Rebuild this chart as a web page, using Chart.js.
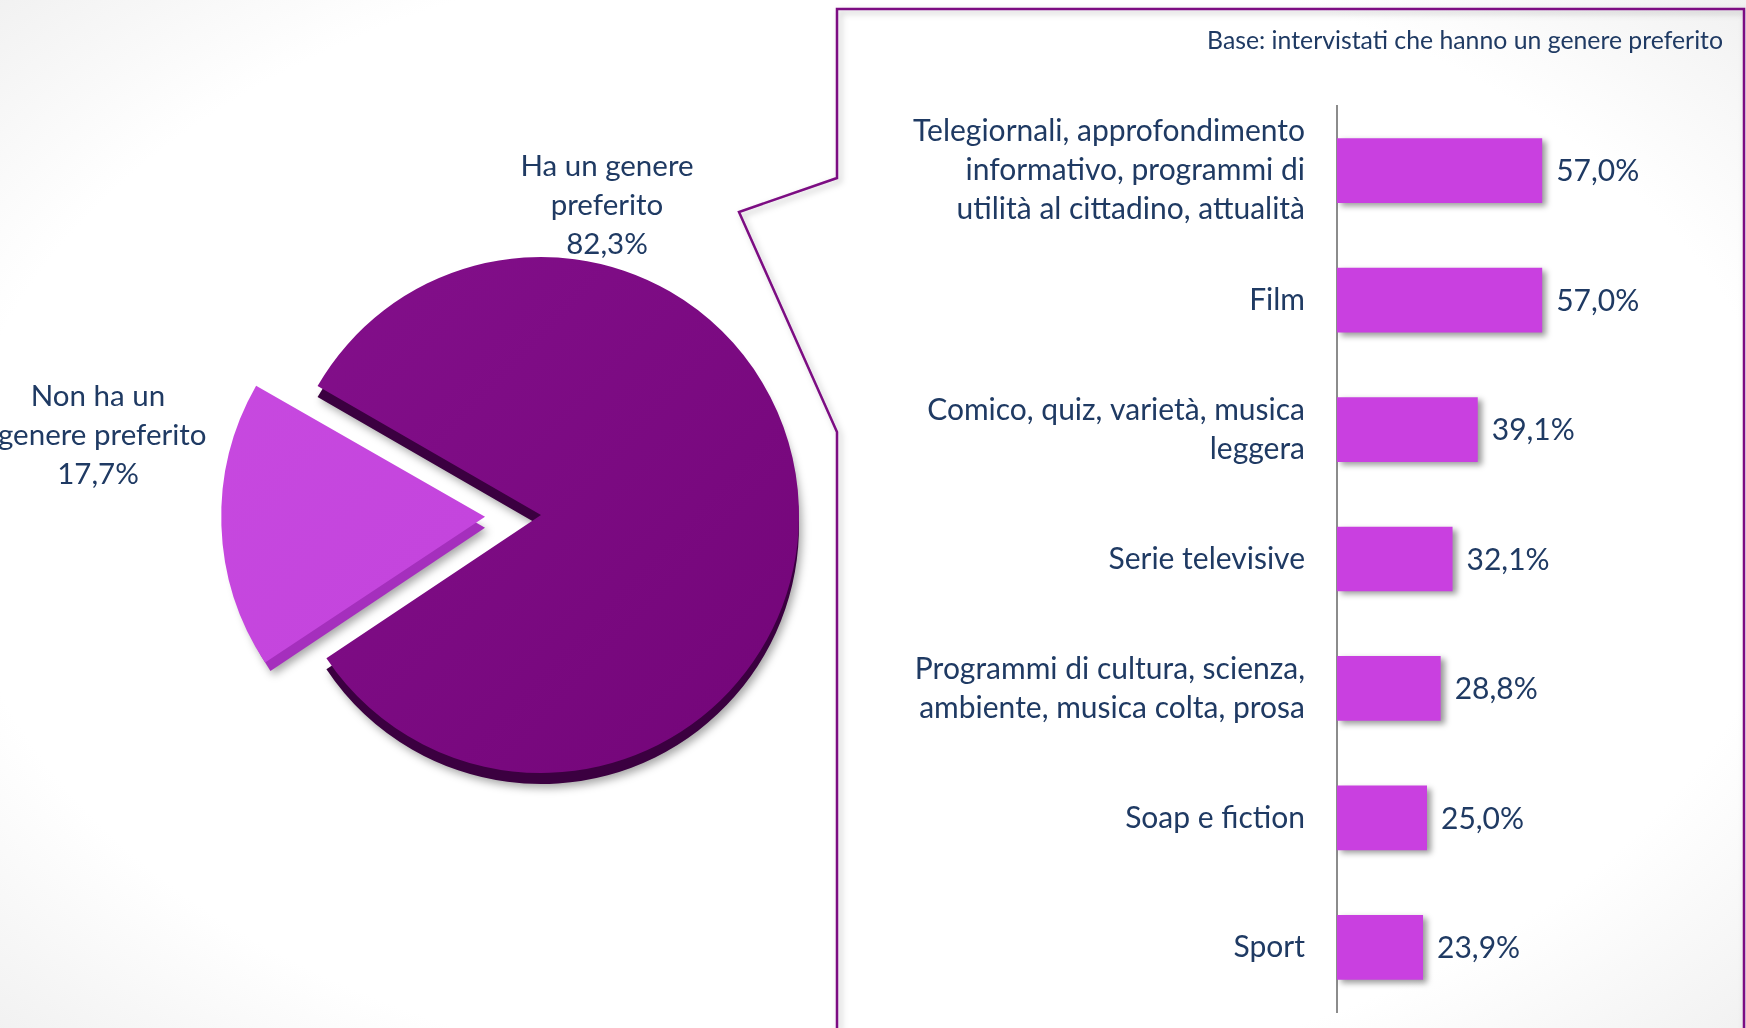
<!DOCTYPE html>
<html>
<head>
<meta charset="utf-8">
<script src="https://cdn.jsdelivr.net/npm/chart.js@4.4.1/dist/chart.umd.min.js"></script>
<style>
html,body{margin:0;padding:0}
body{width:1746px;height:1028px;overflow:hidden;position:relative;
  background:radial-gradient(ellipse 75% 80% at 50% 50%, #ffffff 70%, #ececec 100%);
  font-family:Lato,"Open Sans",sans-serif;color:#1f3a63}
canvas{position:absolute}
#pie{left:1px;top:3px}
#bars{left:840px;top:-1px}
#callout{position:absolute;left:0;top:0}
.lbl{position:absolute;text-align:center;font-size:29.5px;line-height:39px;white-space:nowrap}
#base{position:absolute;right:23px;top:25px;font-size:24.8px;white-space:nowrap}
</style>
</head>
<body>
<canvas id="pie" width="1080" height="1024"></canvas>
<svg id="callout" width="1746" height="1028">
  <defs>
    <filter id="sh" x="-5%" y="-5%" width="110%" height="110%">
      <feDropShadow dx="3" dy="3" stdDeviation="3" flood-color="#000" flood-opacity="0.25"/>
    </filter>
  </defs>
  <polyline points="837,1030 837,432 739,212 837,178 837,9 1744,9 1744,1030"
    fill="none" stroke="#7b0a82" stroke-width="2.5" filter="url(#sh)"/>
</svg>
<canvas id="bars" width="900" height="1028"></canvas>

<div class="lbl" style="left:507px;top:145px;width:200px">Ha un genere<br>preferito<br>82,3%</div>
<div class="lbl" style="left:-2px;top:375px;width:200px">Non ha un<br>genere preferito<br>17,7%</div>
<div id="base">Base: intervistati che hanno un genere preferito</div>

<script>
// pie: who has a favourite genre
const pieLabels = ["Ha un genere preferito", "Non ha un genere preferito"]
const pieValues = [82.3, 17.7]

// bars: favourite genres
const genres = [
  ["Telegiornali, approfondimento", "informativo, programmi di", "utilità al cittadino, attualità"],
  "Film",
  ["Comico, quiz, varietà, musica", "leggera"],
  "Serie televisive",
  ["Programmi di cultura, scienza,", "ambiente, musica colta, prosa"],
  "Soap e fiction",
  "Sport"
]
const genreValues = [57.0, 57.0, 39.1, 32.1, 28.8, 25.0, 23.9]

const textColor = "#1f3a63"
const fontFamily = "Lato, 'Open Sans', sans-serif"

// fake 3d depth under the pie slices
const pieDepth = {
  id: "pieDepth",
  beforeDatasetsDraw(chart){
    const ctx = chart.ctx
    const depthColors = ["#3b0040", "#a52fbd"]
    chart.getDatasetMeta(0).data.forEach((arc, i)=>{
      ctx.save()
      ctx.shadowColor = "rgba(0,0,0,0.35)"
      ctx.shadowBlur = 8
      ctx.shadowOffsetX = 3
      ctx.shadowOffsetY = 4
      // chart.js moves an offset arc by offset/4
      const off = (arc.options.offset || 0) / 4
      const mid = (arc.startAngle + arc.endAngle) / 2
      const cx = arc.x + Math.cos(mid) * off
      const cy = arc.y + Math.sin(mid) * off + 11
      ctx.beginPath()
      ctx.moveTo(cx, cy)
      ctx.arc(cx, cy, arc.outerRadius, arc.startAngle, arc.endAngle)
      ctx.closePath()
      ctx.fillStyle = depthColors[i]
      ctx.fill()
      ctx.restore()
    })
  }
}

// light-to-dark sheen on the slices
function sliceColor(c){
  const {ctx, chartArea} = c.chart
  if(!chartArea) return null
  const g = ctx.createLinearGradient(260, 260, 800, 770)
  if(c.dataIndex === 0){
    g.addColorStop(0, "#84108c")
    g.addColorStop(1, "#730578")
  } else {
    g.addColorStop(0, "#c84ae0")
    g.addColorStop(1, "#c040da")
  }
  return g
}

new Chart(document.getElementById("pie"), {
  type: "pie",
  data: {
    labels: pieLabels,
    datasets: [{
      data: pieValues,
      backgroundColor: sliceColor,
      borderWidth: 0,
      offset: [0, 224]
    }]
  },
  options: {
    responsive: false,
    animation: false,
    radius: 258,
    rotation: 300,
    layout: {padding: 0},
    plugins: {legend: {display: false}, tooltip: {enabled: false}}
  },
  plugins: [pieDepth]
})

// shadow behind bars + value labels
const barExtras = {
  id: "barExtras",
  beforeDatasetsDraw(chart){
    const ctx = chart.ctx
    ctx.save()
    ctx.shadowColor = "rgba(0,0,0,0.4)"
    ctx.shadowBlur = 6
    ctx.shadowOffsetX = 4
    ctx.shadowOffsetY = 3
  },
  afterDatasetsDraw(chart){
    const ctx = chart.ctx
    ctx.restore()
    ctx.save()
    ctx.fillStyle = textColor
    ctx.font = "30px " + fontFamily
    ctx.textBaseline = "middle"
    ctx.textAlign = "left"
    chart.getDatasetMeta(0).data.forEach((bar, i)=>{
      const txt = genreValues[i].toFixed(1).replace(".", ",") + "%"
      ctx.fillText(txt, bar.x + 14, bar.y + 1)
    })
    ctx.restore()
  }
}

new Chart(document.getElementById("bars"), {
  type: "bar",
  data: {
    labels: genres,
    datasets: [{
      data: genreValues,
      backgroundColor: "#c940e0",
      borderWidth: 0,
      barPercentage: 0.5,
      categoryPercentage: 1
    }]
  },
  options: {
    indexAxis: "y",
    responsive: false,
    animation: false,
    layout: {padding: {top: 107, bottom: 15, right: 43, left: 0}},
    scales: {
      x: {display: false, min: 0, max: 100},
      y: {
        afterFit(scale){
          scale.width = 497
          scale.paddingTop = 0
          scale.paddingBottom = 0
        },
        grid: {display: false},
        border: {display: true, color: "#8c8c8c", width: 2},
        ticks: {
          color: textColor,
          padding: 24,
          font: {family: fontFamily, size: 30, lineHeight: 1.3}
        }
      }
    },
    plugins: {legend: {display: false}, tooltip: {enabled: false}}
  },
  plugins: [barExtras]
})
</script>
</body>
</html>
